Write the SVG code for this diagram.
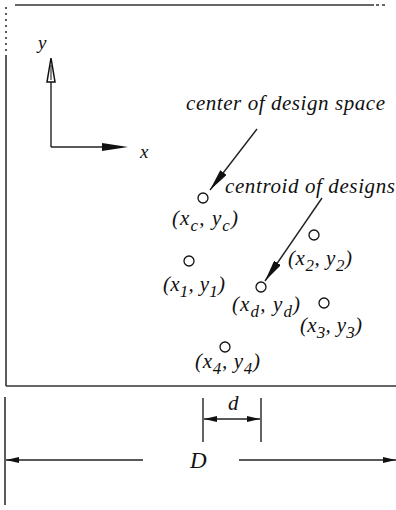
<svg xmlns="http://www.w3.org/2000/svg" width="396" height="510" viewBox="0 0 396 510">
<style>
.ln{stroke:#222;stroke-width:1.4;fill:none}
.bd{stroke:#333;stroke-width:1.6;fill:none}
.pt{stroke:#111;stroke-width:1.3;fill:#fff}
text{font-family:"Liberation Serif","Times New Roman",serif;font-style:italic;fill:#111}
.lab{font-size:21px}
.sub{font-size:17px}
</style>
<defs>
<marker id="ah" viewBox="0 0 22 8" refX="22" refY="4" markerWidth="22" markerHeight="8" markerUnits="userSpaceOnUse" orient="auto">
<path d="M0,0 L22,4 L0,8 Z" fill="#111"/>
</marker>
<marker id="sh" viewBox="0 0 13 6" refX="13" refY="3" markerWidth="13" markerHeight="6" markerUnits="userSpaceOnUse" orient="auto-start-reverse">
<path d="M0,0 L13,3 L0,6 Z" fill="#111"/>
</marker>
</defs>
<g id="frame">
<line class="bd" x1="15" y1="5" x2="374" y2="5"/>
<line class="bd" x1="376" y1="5" x2="386" y2="5" stroke-dasharray="3 3"/>
<line class="bd" x1="6" y1="7" x2="6" y2="55" stroke-dasharray="2 4"/>
<line class="bd" x1="6" y1="55" x2="6" y2="386"/>
<line class="bd" x1="6" y1="386" x2="396" y2="386"/>
<line class="bd" x1="5" y1="397" x2="5" y2="505"/>
</g>
<g id="axes">
<line class="ln" x1="51" y1="147" x2="51" y2="80"/>
<path d="M51,58 L55,82 L47,82 Z" fill="#fff" stroke="#111" stroke-width="1.5"/>
<line x1="51" y1="65" x2="51" y2="80" stroke="#111" stroke-width="1"/>
<line class="ln" x1="51" y1="147" x2="104" y2="147"/>
<path d="M102,143 L128,147 L102,151 Z" fill="#111"/>
<text x="38" y="49" style="font-size:19px">y</text>
<text x="140" y="158" style="font-size:19px">x</text>
</g>
<g id="connectors">
<line class="ln" x1="257" y1="129" x2="210" y2="190" marker-end="url(#ah)"/>
<line class="ln" x1="322" y1="198" x2="265" y2="281" marker-end="url(#ah)"/>
</g>
<g id="label-center"><text class="lab" x="186" y="110" textLength="199" lengthAdjust="spacing">center of design space</text></g>
<g id="label-centroid"><text class="lab" x="225" y="193" textLength="170" lengthAdjust="spacing">centroid of designs</text></g>
<g id="pc">
<circle class="pt" cx="203" cy="198" r="5"/>
<text class="lab" x="172" y="225" textLength="66" lengthAdjust="spacing">(x<tspan class="sub" dy="6">c</tspan><tspan dy="-6">, y</tspan><tspan class="sub" dy="6">c</tspan><tspan dy="-6">)</tspan></text>
</g>
<g id="p1">
<circle class="pt" cx="189" cy="261" r="5"/>
<text class="lab" x="163" y="291" textLength="62" lengthAdjust="spacing">(x<tspan class="sub" dy="6">1</tspan><tspan dy="-6">, y</tspan><tspan class="sub" dy="6">1</tspan><tspan dy="-6">)</tspan></text>
</g>
<g id="p2">
<circle class="pt" cx="314" cy="235" r="5"/>
<text class="lab" x="288" y="265" textLength="64" lengthAdjust="spacing">(x<tspan class="sub" dy="6">2</tspan><tspan dy="-6">, y</tspan><tspan class="sub" dy="6">2</tspan><tspan dy="-6">)</tspan></text>
</g>
<g id="pd">
<circle class="pt" cx="261" cy="287" r="5"/>
<text class="lab" x="232" y="311" textLength="68" lengthAdjust="spacing">(x<tspan class="sub" dy="6">d</tspan><tspan dy="-6">, y</tspan><tspan class="sub" dy="6">d</tspan><tspan dy="-6">)</tspan></text>
</g>
<g id="p3">
<circle class="pt" cx="324" cy="303" r="5"/>
<text class="lab" x="300" y="332" textLength="62" lengthAdjust="spacing">(x<tspan class="sub" dy="6">3</tspan><tspan dy="-6">, y</tspan><tspan class="sub" dy="6">3</tspan><tspan dy="-6">)</tspan></text>
</g>
<g id="p4">
<circle class="pt" cx="225" cy="347" r="5"/>
<text class="lab" x="195" y="368" textLength="65" lengthAdjust="spacing">(x<tspan class="sub" dy="6">4</tspan><tspan dy="-6">, y</tspan><tspan class="sub" dy="6">4</tspan><tspan dy="-6">)</tspan></text>
</g>
<g id="dim-d">
<line class="ln" x1="203" y1="398" x2="203" y2="442"/>
<line class="ln" x1="261" y1="398" x2="261" y2="442"/>
<line class="ln" x1="204" y1="419" x2="260" y2="419" marker-start="url(#sh)" marker-end="url(#sh)"/>
<text x="228" y="410" style="font-size:21px">d</text>
</g>
<g id="dim-D">
<line class="ln" x1="6" y1="460" x2="143" y2="460" marker-start="url(#sh)"/>
<line class="ln" x1="239" y1="460" x2="396" y2="460" marker-end="url(#sh)"/>
<text x="190" y="468" style="font-size:23px">D</text>
</g>
</svg>
